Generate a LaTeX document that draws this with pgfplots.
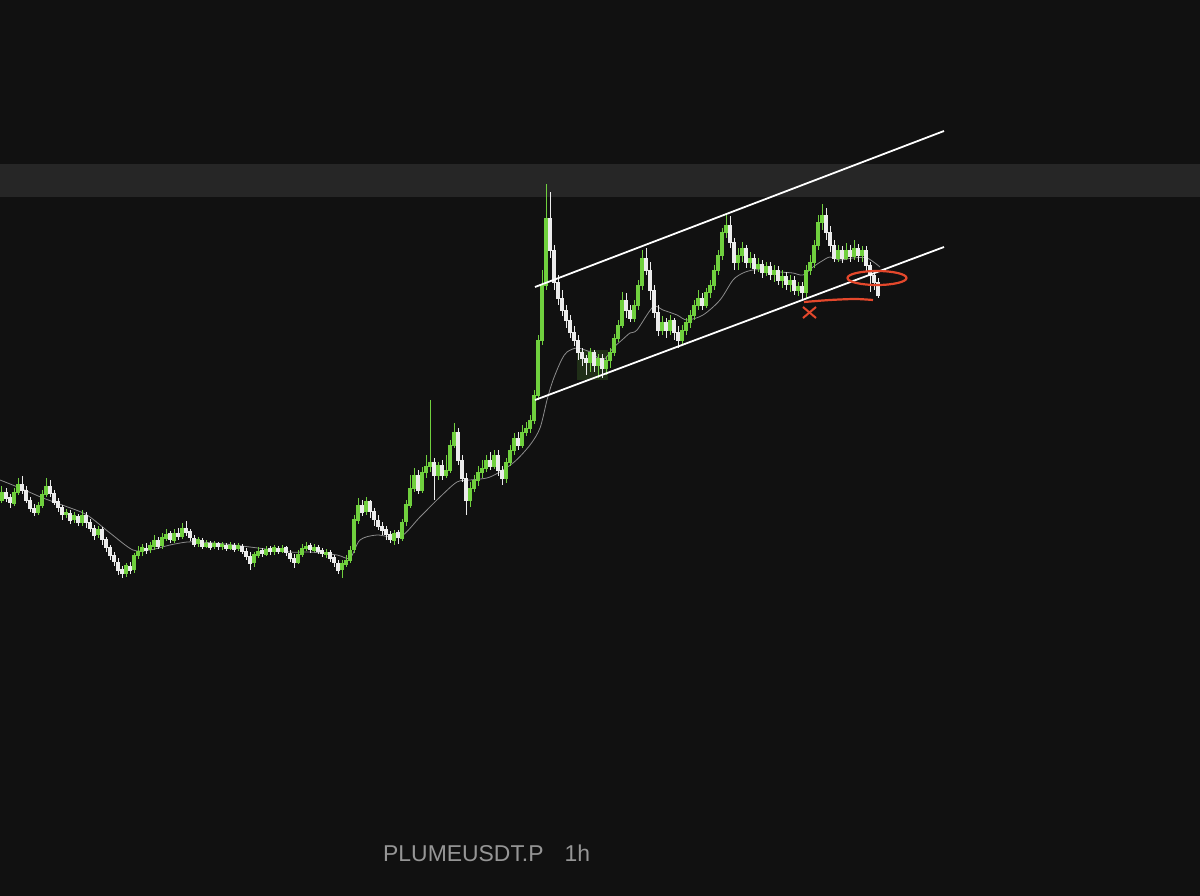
\documentclass[border=0pt]{standalone}
\usepackage{pgfplots}
\pgfplotsset{compat=1.18}
\usepackage{pgfplotstable}
\usepackage{fontspec}
\setmainfont{Liberation Sans}

\definecolor{bg}{RGB}{17,17,17}
\definecolor{band}{RGB}{38,38,38}
\definecolor{upc}{RGB}{112,208,62}
\definecolor{dnc}{RGB}{236,236,236}
\definecolor{ma}{RGB}{140,140,140}
\definecolor{pen}{RGB}{228,72,44}
\definecolor{lbl}{RGB}{150,150,150}

% candles in screen units (y grows downward): x open high low close
\pgfplotstableread{
x o h l c
2 500 486 503 492
6 492 488 502 498
10 498 494 508 503
14 503 488 506 492
18 492 478 495 484
22 484 476 494 490
26 490 486 503 500
30 500 497 512 508
34 508 504 516 512
38 512 502 515 505
42 505 490 508 494
46 494 478 497 486
50 486 480 497 493
54 493 490 505 502
58 502 498 512 508
62 508 505 520 515
66 515 509 518 513
70 513 510 524 520
74 520 512 523 516
78 516 514 526 522
82 522 510 526 515
86 515 512 528 522
90 522 519 532 528
94 528 525 540 535
98 535 526 538 530
102 530 527 545 540
106 540 537 552 548
110 548 545 560 556
114 556 552 566 562
118 562 558 575 570
122 570 566 578 574
126 574 563 577 566
130 566 562 574 570
134 570 553 573 556
138 556 546 559 552
142 552 544 556 548
146 548 543 554 550
150 550 542 553 546
154 546 535 550 540
158 540 537 549 546
162 546 533 549 538
166 538 529 541 534
170 534 531 543 540
174 540 529 543 533
178 533 528 540 536
182 536 523 539 528
186 528 521 536 532
190 532 529 541 538
194 538 535 547 544
198 544 537 547 540
202 540 538 549 546
206 546 540 548 543
210 543 541 550 547
214 547 541 549 544
218 544 542 550 547
222 547 542 550 545
226 545 543 551 548
230 548 542 550 545
234 545 543 552 549
238 549 543 551 546
242 546 544 554 551
246 551 548 560 556
250 556 552 570 563
254 563 552 567 555
258 555 547 558 551
262 551 548 557 554
266 554 546 556 549
270 549 546 555 552
274 552 545 555 548
278 548 546 554 551
282 551 545 553 548
286 548 546 556 553
290 553 550 562 558
294 558 554 568 562
298 562 550 564 554
302 554 544 557 548
306 548 542 551 546
310 546 543 553 550
314 550 544 552 547
318 547 545 554 551
322 551 548 557 554
326 554 549 558 552
330 552 550 562 558
334 558 555 567 563
338 563 560 574 570
342 570 560 578 564
346 564 555 567 560
350 560 546 563 550
354 550 515 553 520
358 520 498 524 505
362 505 500 516 512
366 512 497 515 502
370 502 500 518 512
374 512 508 526 520
378 520 515 530 526
382 526 522 535 530
386 530 526 540 535
390 535 531 543 540
394 540 530 545 533
398 533 530 544 538
402 538 519 541 522
406 522 500 526 505
410 505 475 508 488
414 488 468 492 475
418 475 470 494 490
422 490 467 493 472
426 472 455 478 466
430 466 400 472 462
434 462 458 500 475
438 475 462 480 465
442 465 460 480 475
446 475 455 478 470
450 470 440 473 445
454 445 423 448 432
458 432 428 465 460
462 460 455 482 478
466 478 473 515 500
470 500 482 507 488
474 488 475 492 480
478 480 466 486 472
482 472 460 478 468
486 468 455 472 460
490 460 452 470 466
494 466 450 469 455
498 455 450 476 470
502 470 466 485 478
506 478 458 483 462
510 462 445 466 450
514 450 433 455 438
518 438 432 450 445
522 445 425 448 432
526 432 422 436 428
530 428 415 433 420
534 420 390 424 395
538 395 335 400 340
542 340 270 345 285
546 285 184 290 218
550 218 192 258 250
554 250 245 290 282
558 282 275 305 298
562 298 290 316 310
566 310 305 328 320
570 320 315 338 332
574 332 326 346 340
578 340 335 360 352
582 352 348 366 358
586 358 355 375 362
590 362 348 372 352
594 352 350 372 365
598 365 354 378 358
602 358 354 378 368
606 368 356 375 360
610 360 348 368 352
614 352 334 356 338
618 338 320 342 325
622 325 292 328 300
626 300 293 318 310
630 310 305 322 318
634 318 300 322 305
638 305 280 310 285
642 285 250 290 258
646 258 248 275 270
650 270 262 300 290
654 290 285 318 312
658 312 305 336 330
662 330 316 335 322
666 322 318 338 330
670 330 315 335 320
674 320 318 340 332
678 332 326 348 340
682 340 325 345 330
686 330 318 335 322
690 322 310 328 315
694 315 300 320 305
698 305 290 310 298
702 298 293 310 305
706 305 288 308 292
710 292 280 298 285
714 285 265 290 270
718 270 250 275 255
722 255 228 260 232
726 232 214 238 225
730 225 216 248 242
734 242 238 270 262
738 262 248 270 255
742 255 242 262 248
746 248 245 268 262
750 262 252 268 258
754 258 254 274 268
758 268 258 272 264
762 264 260 278 272
766 272 262 276 266
770 266 262 280 274
774 274 265 282 270
778 270 266 285 280
782 280 270 288 276
786 276 272 290 284
790 284 275 292 280
794 280 276 295 290
798 290 282 296 286
802 286 282 300 292
806 292 265 298 270
810 270 255 275 262
814 262 240 268 245
818 245 215 250 222
822 222 204 230 215
826 215 208 240 232
830 232 226 252 245
834 245 240 262 258
838 258 245 262 250
842 250 246 263 258
846 258 243 260 250
850 250 245 262 256
854 256 240 260 248
858 248 244 262 255
862 255 246 262 250
866 250 246 272 265
870 265 262 292 275
874 275 270 290 282
878 282 278 298 295
}\candles

% moving average, read at intervals
\pgfplotstableread{
x m
0 480
20 488
43 498
65 506
87 515
110 533
133 550
150 550
170 545
187 542
200 542
225 544
250 547
290 552
310 552
337 555
350 558
360 540
377 535
400 537
420 517
440 497
457 482
470 480
490 477
513 463
530 445
540 428
547 400
552 383
557 370
562 359
567 352
577 348
590 352
603 360
613 348
622 340
630 333
637 330
653 307
663 310
677 315
687 320
703 315
720 300
733 280
743 273
753 270
763 270
780 272
793 273
803 275
813 267
822 261
830 257
840 260
853 258
867 258
880 267
}\matab

\begin{document}
\begin{tikzpicture}
\begin{axis}[
  x=1bp, y=1bp, y dir=reverse,
  xmin=0, xmax=1200, ymin=0, ymax=896,
  hide axis, clip=true,
]
% background and the grey resistance band
\addplot[draw=none, fill=bg, forget plot] coordinates {(0,0) (1200,0) (1200,896) (0,896)} -- cycle;
\addplot[draw=none, fill=band, forget plot] coordinates {(0,164) (1200,164) (1200,197) (0,197)} -- cycle;
% highlighted base area
\addplot[draw=none, fill=upc, fill opacity=0.16, forget plot] coordinates {(577,350) (608,350) (608,380) (577,380)} -- cycle;

% moving average
\addplot[ma, line width=0.8bp, smooth, forget plot] table[x=x, y=m] {\matab};

% wicks
\addplot[draw=none, forget plot,
  restrict expr to domain={\thisrow{o}-\thisrow{c}}{0.5:1000},
  error bars/.cd, y dir=both, y explicit, error mark=none,
  error bar style={line width=1bp, draw=upc}]
  table[x=x, y expr={(\thisrow{h}+\thisrow{l})/2}, y error expr={(\thisrow{l}-\thisrow{h})/2}] {\candles};
\addplot[draw=none, forget plot,
  restrict expr to domain={\thisrow{o}-\thisrow{c}}{-1000:0.4},
  error bars/.cd, y dir=both, y explicit, error mark=none,
  error bar style={line width=1bp, draw=dnc}]
  table[x=x, y expr={(\thisrow{h}+\thisrow{l})/2}, y error expr={(\thisrow{l}-\thisrow{h})/2}] {\candles};
% bodies
\addplot[draw=none, forget plot,
  restrict expr to domain={\thisrow{o}-\thisrow{c}}{0.5:1000},
  error bars/.cd, y dir=both, y explicit, error mark=none,
  error bar style={line width=3.3bp, draw=upc}]
  table[x=x, y expr={(\thisrow{o}+\thisrow{c})/2}, y error expr={abs(\thisrow{o}-\thisrow{c})/2+0.5}] {\candles};
\addplot[draw=none, forget plot,
  restrict expr to domain={\thisrow{o}-\thisrow{c}}{-1000:0.4},
  error bars/.cd, y dir=both, y explicit, error mark=none,
  error bar style={line width=3.3bp, draw=dnc}]
  table[x=x, y expr={(\thisrow{o}+\thisrow{c})/2}, y error expr={abs(\thisrow{o}-\thisrow{c})/2+0.5}] {\candles};

% rising channel
\addplot[white, line width=1.8bp, forget plot] coordinates {(535,287) (944,131)};
\addplot[white, line width=1.8bp, forget plot] coordinates {(535,400) (944,247)};

% breakdown annotations
\draw[pen, line width=2.2bp] (axis cs:877,278) ellipse [x radius=29.5bp, y radius=7bp];
\addplot[pen, line width=2.2bp, smooth, forget plot] coordinates {(804,302) (830,300) (855,299) (873,300)};
\addplot[pen, line width=2bp, forget plot] coordinates {(803,307) (816,318)};
\addplot[pen, line width=2bp, forget plot] coordinates {(816,307) (803,318)};

\node[anchor=base west, text=lbl, font=\fontsize{23}{27}\selectfont, inner sep=0pt]
  at (axis cs:383,861) {PLUMEUSDT.P\hspace{21bp}1h};
\end{axis}
\end{tikzpicture}
\end{document}
